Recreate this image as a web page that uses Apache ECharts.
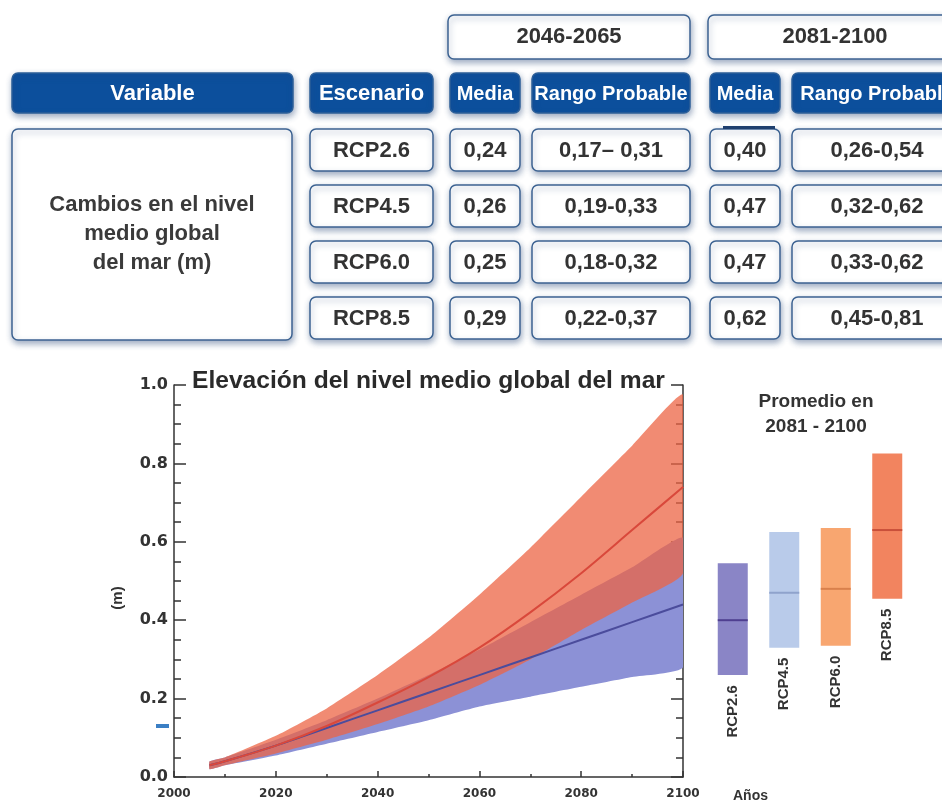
<!DOCTYPE html>
<html>
<head>
<meta charset="utf-8">
<script src="https://cdn.jsdelivr.net/npm/echarts@6/dist/echarts.min.js"></script>
<style>
  html, body { margin: 0; padding: 0; background: #fff; }
  #chart { width: 942px; height: 801px; }
</style>
</head>
<body>
<div id="chart"></div>
<script>
// ---- table texts ----
const periods = ['2046-2065', '2081-2100'];
const headers = ['Variable', 'Escenario', 'Media', 'Rango Probable', 'Media', 'Rango Probable'];
const variableLabel = 'Cambios en el nivel\nmedio global\ndel mar (m)';
const scenarios = ['RCP2.6', 'RCP4.5', 'RCP6.0', 'RCP8.5'];
const mediaMid = ['0,24', '0,26', '0,25', '0,29'];
const rangoMid = ['0,17\u2013 0,31', '0,19-0,33', '0,18-0,32', '0,22-0,37'];
const mediaEnd = ['0,40', '0,47', '0,47', '0,62'];
const rangoEnd = ['0,26-0,54', '0,32-0,62', '0,33-0,62', '0,45-0,81'];

// ---- time series (m) ----
const years = [2007, 2010, 2020, 2030, 2040, 2050, 2060, 2070, 2080, 2090, 2100];
const rcp26Mean = [0.03, 0.04, 0.08, 0.125, 0.17, 0.215, 0.26, 0.305, 0.35, 0.395, 0.44];
const rcp26Low  = [0.02, 0.03, 0.055, 0.085, 0.115, 0.145, 0.18, 0.205, 0.23, 0.255, 0.28];
const rcp26High = [0.04, 0.05, 0.095, 0.145, 0.20, 0.26, 0.325, 0.395, 0.465, 0.535, 0.61];
const rcp85Mean = [0.03, 0.04, 0.08, 0.13, 0.19, 0.255, 0.33, 0.42, 0.52, 0.63, 0.74];
const rcp85Low  = [0.02, 0.03, 0.06, 0.095, 0.135, 0.18, 0.235, 0.30, 0.375, 0.445, 0.52];
const rcp85High = [0.04, 0.05, 0.105, 0.175, 0.26, 0.355, 0.465, 0.585, 0.715, 0.845, 0.975];

// ---- 2081-2100 averages ----
const barNames = ['RCP2.6', 'RCP4.5', 'RCP6.0', 'RCP8.5'];
const barLow  = [0.26, 0.33, 0.335, 0.455];
const barHigh = [0.545, 0.625, 0.635, 0.825];
const barMean = [0.40, 0.47, 0.48, 0.63];
const barColors = ['#8a85c6', '#b9cbea', '#f8a670', '#f2845f'];
const barLineColors = ['#4f3f90', '#8fa3cc', '#d9804c', '#c9503a'];

const chart = echarts.init(document.getElementById('chart'));

const pairs = (ys) => years.map((y, i) => [y, ys[i]]);
const FONT = '"Liberation Sans", Arial, sans-serif';

// table layout
const cols = [[12, 293], [310, 433], [450, 520], [532, 690], [710, 780], [792, 962]];
const rowsY = [129, 185, 241, 297];
const rowH = 42;
const shadow = { shadowBlur: 6, shadowOffsetX: 1, shadowOffsetY: 3, shadowColor: 'rgba(40,70,120,0.45)' };

function box(x1, y, x2, h, fill, stroke) {
    return {
        type: 'rect',
        shape: { x: x1, y: y, width: x2 - x1, height: h, r: 6 },
        style: Object.assign({ fill: fill, stroke: stroke, lineWidth: 1.5 }, shadow),
        z: 1
    };
}
function label(x, y, text, size, color) {
    return {
        type: 'text',
        x: x, y: y,
        style: {
            text: text, fill: color,
            font: 'bold ' + size + 'px ' + FONT,
            align: 'center', verticalAlign: 'middle', lineHeight: 29
        },
        z: 2
    };
}

const graphics = [];
[[448, 690], [708, 962]].forEach((c, i) => {
    graphics.push(box(c[0], 15, c[1], 44, '#fff', '#3c6291'));
    graphics.push(label((c[0] + c[1]) / 2, 37, periods[i], 22, '#333'));
});
cols.forEach((c, i) => {
    graphics.push(box(c[0], 73, c[1], 40, '#0c4f9c', '#2d5f98'));
    graphics.push(label((c[0] + c[1]) / 2, 94, headers[i], i < 2 ? 22 : 20, '#fff'));
});
graphics.push(box(12, 129, 292, 211, '#fff', '#3c6291'));
graphics.push(label(152, 234, variableLabel, 22, '#3a3a3a'));
const colTexts = [scenarios, mediaMid, rangoMid, mediaEnd, rangoEnd];
rowsY.forEach((y, r) => {
    colTexts.forEach((arr, k) => {
        const c = cols[k + 1];
        graphics.push(box(c[0], y, c[1], rowH, '#fff', '#3c6291'));
        graphics.push(label((c[0] + c[1]) / 2, y + rowH / 2 + 1, arr[r], 22, '#333'));
    });
});
graphics.push({ type: 'rect', shape: { x: 723, y: 126, width: 52, height: 3 }, style: { fill: '#1f3f6e' }, z: 3 });
graphics.push({ type: 'rect', shape: { x: 156, y: 724, width: 13, height: 4 }, style: { fill: '#3b7fc4' }, z: 3 });
graphics.push({
    type: 'text', x: 118, y: 598, rotation: Math.PI / 2,
    style: { text: '(m)', fill: '#333', font: 'bold 15px ' + FONT, align: 'center', verticalAlign: 'middle' }
});
graphics.push({
    type: 'text', x: 816, y: 414,
    style: { text: 'Promedio en\n2081 - 2100', fill: '#333', font: 'bold 19px ' + FONT, align: 'center', verticalAlign: 'middle', lineHeight: 25 }
});

// likely range band: one polygon through the axis scales
function bandSeries(low, high, fill, z) {
    return {
        type: 'custom', xAxisIndex: 0, yAxisIndex: 0, clip: true, z: z,
        data: years.map((y, i) => [y, low[i], high[i]]),
        renderItem: function (params, api) {
            if (params.dataIndex !== 0) return null;
            const top = years.map((y, i) => api.coord([y, high[i]]));
            const bot = years.map((y, i) => api.coord([y, low[i]])).reverse();
            return {
                type: 'polygon',
                shape: { points: top.concat(bot), smooth: 0.15 },
                style: { fill: fill }
            };
        }
    };
}

const axisTitleStyle = { fontFamily: FONT, fontWeight: 'bold', color: '#333' };
const tickLine = { color: '#333', width: 1.5 };

const option = {
    animation: false,
    backgroundColor: '#fff',
    title: {
        text: 'Elevación del nivel medio global del mar',
        left: 192, top: 369, padding: 0,
        textStyle: { fontFamily: FONT, fontWeight: 'bold', fontSize: 24.6, color: '#2a2a2a' }
    },
    grid: [
        { left: 174, right: 259, top: 385, bottom: 24, outerBoundsMode: 'none', containLabel: false },
        { left: 707, width: 206, top: 385, bottom: 24, outerBoundsMode: 'none', containLabel: false }
    ],
    xAxis: [
        {
            type: 'value', gridIndex: 0, min: 2000, max: 2100, interval: 20,
            name: 'Años', nameLocation: 'end', nameGap: 50,
            nameTextStyle: Object.assign({ fontSize: 14, verticalAlign: 'top', padding: [12, 0, 0, 0] }, axisTitleStyle),
            axisLine: { lineStyle: tickLine },
            axisTick: { inside: true, length: 6, lineStyle: tickLine },
            minorTick: { show: true, splitNumber: 2, length: 3, lineStyle: tickLine },
            axisLabel: { color: '#333', fontFamily: '"DejaVu Sans", sans-serif', fontWeight: 'bold', fontSize: 12, margin: 11, showMinLabel: true, showMaxLabel: true, formatter: (v) => String(v) },
            splitLine: { show: false }
        },
        { type: 'category', gridIndex: 1, data: barNames, show: false }
    ],
    yAxis: [
        {
            type: 'value', gridIndex: 0, min: 0, max: 1, interval: 0.2,
            axisLine: { show: true, lineStyle: tickLine },
            axisTick: { inside: true, length: 12, lineStyle: tickLine },
            minorTick: { show: true, splitNumber: 4, length: 7, lineStyle: tickLine },
            axisLabel: { color: '#333', fontFamily: '"DejaVu Sans", sans-serif', fontWeight: 'bold', fontSize: 16, margin: 6, formatter: (v) => v.toFixed(1) },
            splitLine: { show: false }
        },
        {
            type: 'value', gridIndex: 0, position: 'right', min: 0, max: 1, interval: 0.2,
            axisLine: { show: true, lineStyle: tickLine },
            axisTick: { inside: true, length: 12, lineStyle: tickLine },
            minorTick: { show: true, splitNumber: 4, length: 7, lineStyle: tickLine },
            axisLabel: { show: false },
            splitLine: { show: false }
        },
        { type: 'value', gridIndex: 1, min: 0, max: 1, show: false, splitLine: { show: false } }
    ],
    series: [
        bandSeries(rcp26Low, rcp26High, '#8c91d6', 1),
        bandSeries(rcp85Low, rcp85High, 'rgba(236,100,68,0.75)', 2),
        {
            type: 'line', name: 'RCP2.6', data: pairs(rcp26Mean), smooth: 0.3,
            showSymbol: false, lineStyle: { color: '#4b4c9c', width: 2 }, z: 4
        },
        {
            type: 'line', name: 'RCP8.5', data: pairs(rcp85Mean), smooth: 0.3,
            showSymbol: false, lineStyle: { color: '#d9483b', width: 2 }, z: 4
        },
        {
            type: 'custom', xAxisIndex: 1, yAxisIndex: 2,
            data: barNames.map((n, i) => [i, barLow[i], barHigh[i], barMean[i]]),
            renderItem: function (params, api) {
                const i = api.value(0);
                const lo = api.coord([i, api.value(1)]);
                const hi = api.coord([i, api.value(2)]);
                const mid = api.coord([i, api.value(3)]);
                const w = 30;
                return {
                    type: 'group',
                    children: [
                        { type: 'rect', shape: { x: lo[0] - w / 2, y: hi[1], width: w, height: lo[1] - hi[1] }, style: { fill: barColors[i] } },
                        { type: 'line', shape: { x1: lo[0] - w / 2, y1: mid[1], x2: lo[0] + w / 2, y2: mid[1] }, style: { stroke: barLineColors[i], lineWidth: 2 } },
                        {
                            type: 'text', x: lo[0], y: lo[1] + 10, rotation: Math.PI / 2,
                            style: { text: barNames[i], fill: '#333', font: 'bold 15px ' + FONT, align: 'right', verticalAlign: 'middle' }
                        }
                    ]
                };
            }
        }
    ],
    graphic: graphics
};

chart.setOption(option);
</script>
</body>
</html>
